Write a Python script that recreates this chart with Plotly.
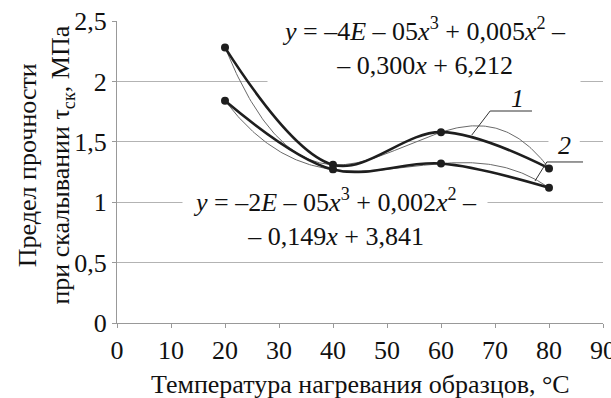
import numpy as np
import plotly.graph_objects as go

# Data
temperature = [20, 40, 60, 80]
strength_1 = [2.28, 1.31, 1.58, 1.28]
strength_2 = [1.84, 1.27, 1.32, 1.12]
x_ticks = [0, 10, 20, 30, 40, 50, 60, 70, 80, 90]
y_ticks = [0, 0.5, 1, 1.5, 2, 2.5]
y_tick_text = ["0", "0,5", "1", "1,5", "2", "2,5"]

eq_1 = "<i>y</i> = –4<i>E</i> – 05<i>x</i><sup>3</sup> + 0,005<i>x</i><sup>2</sup> –<br>– 0,300<i>x</i> + 6,212"
eq_2 = "<i>y</i> = –2<i>E</i> – 05<i>x</i><sup>3</sup> + 0,002<i>x</i><sup>2</sup> –<br>– 0,149<i>x</i> + 3,841"

FONT = "Liberation Serif"
FS = 26
TXT = "#111111"

fig = go.Figure()

# cubic polynomial trendlines (thin grey), as in the original spreadsheet chart
xt = np.linspace(min(temperature), max(temperature), 200)
for ys in (strength_1, strength_2):
    c = np.polyfit(temperature, ys, 3)
    fig.add_trace(go.Scatter(x=xt, y=np.polyval(c, xt), mode="lines",
                             line=dict(color="#6a6a6a", width=1), hoverinfo="skip",
                             showlegend=False))

# smoothed data lines with markers
for ys in (strength_1, strength_2):
    fig.add_trace(go.Scatter(x=temperature, y=ys, mode="lines+markers",
                             line=dict(color="#1e1e1e", width=2.6, shape="spline", smoothing=1),
                             marker=dict(color="#1e1e1e", size=8),
                             showlegend=False))

ann = []
ann.append(dict(x=56.9, y=2.285, xref="x", yref="y", text=eq_1, showarrow=False,
                font=dict(family=FONT, size=FS, color=TXT), align="center",
                bgcolor="white", borderpad=14))
ann.append(dict(x=40.4, y=0.877, xref="x", yref="y", text=eq_2, showarrow=False,
                font=dict(family=FONT, size=FS, color=TXT), align="center",
                bgcolor="white", borderpad=10))
ann.append(dict(x=74.1, y=1.86, xref="x", yref="y", text="<i>1</i>", showarrow=False,
                font=dict(family=FONT, size=FS, color=TXT)))
ann.append(dict(x=82.8, y=1.47, xref="x", yref="y", text="<i>2</i>", showarrow=False,
                font=dict(family=FONT, size=FS, color=TXT)))
ann.append(dict(x=-0.147, y=0.523, xref="paper", yref="paper", xanchor="center", yanchor="middle",
                textangle=-90,
                text="Предел прочности<br>при скалывании τ<sub>ск</sub>, МПа", showarrow=False,
                font=dict(family=FONT, size=FS, color=TXT)))
ann.append(dict(x=0.5, y=-0.205, xref="paper", yref="paper", xanchor="center", yanchor="middle",
                text="Температура нагревания образцов, °С", showarrow=False,
                font=dict(family=FONT, size=FS, color=TXT)))
fig.update_layout(annotations=ann)

shapes = [
    # white patch that breaks the 1,5 gridline behind label "2" (drawn under the data lines)
    dict(type="rect", xref="x", yref="y", x0=79.9, y0=1.42, x1=85.7, y1=1.58, layer="between",
         fillcolor="white", line=dict(width=0)),
    dict(type="line", xref="x", yref="y", x0=69.1, y0=1.755, x1=76.85, y1=1.755, line=dict(color="#333", width=1)),
    dict(type="line", xref="x", yref="y", x0=69.1, y0=1.755, x1=65.7, y1=1.556, line=dict(color="#333", width=1)),
    dict(type="line", xref="x", yref="y", x0=79.6, y0=1.333, x1=86.3, y1=1.333, line=dict(color="#333", width=1)),
    dict(type="line", xref="x", yref="y", x0=79.6, y0=1.333, x1=77.4, y1=1.175, line=dict(color="#333", width=1)),
]
fig.update_layout(shapes=shapes)

fig.update_xaxes(range=[0, 90], tickvals=x_ticks, ticks="outside", ticklen=4, tickcolor="#999",
                 showline=True, linecolor="#999", linewidth=1, showgrid=False, zeroline=False,
                 automargin=False, ticklabeloverflow="allow",
                 tickfont=dict(family=FONT, size=FS, color=TXT))
fig.update_yaxes(range=[0, 2.5], tickvals=y_ticks, ticktext=y_tick_text, ticks="outside", ticklen=4,
                 tickcolor="#999", showline=True, linecolor="#999", linewidth=1,
                 showgrid=True, gridcolor="#b3b3b3", gridwidth=1, zeroline=False,
                 automargin=False, ticklabeloverflow="allow",
                 tickfont=dict(family=FONT, size=FS, color=TXT))

fig.update_layout(width=611, height=398, margin=dict(l=117, r=8, t=21, b=75),
                  plot_bgcolor="white", paper_bgcolor="white")

# remove the default 8px page margin so the figure fills the window exactly
fig.write_html("out.html", config={"displayModeBar": False},
               post_script="document.body.style.margin='0';")
